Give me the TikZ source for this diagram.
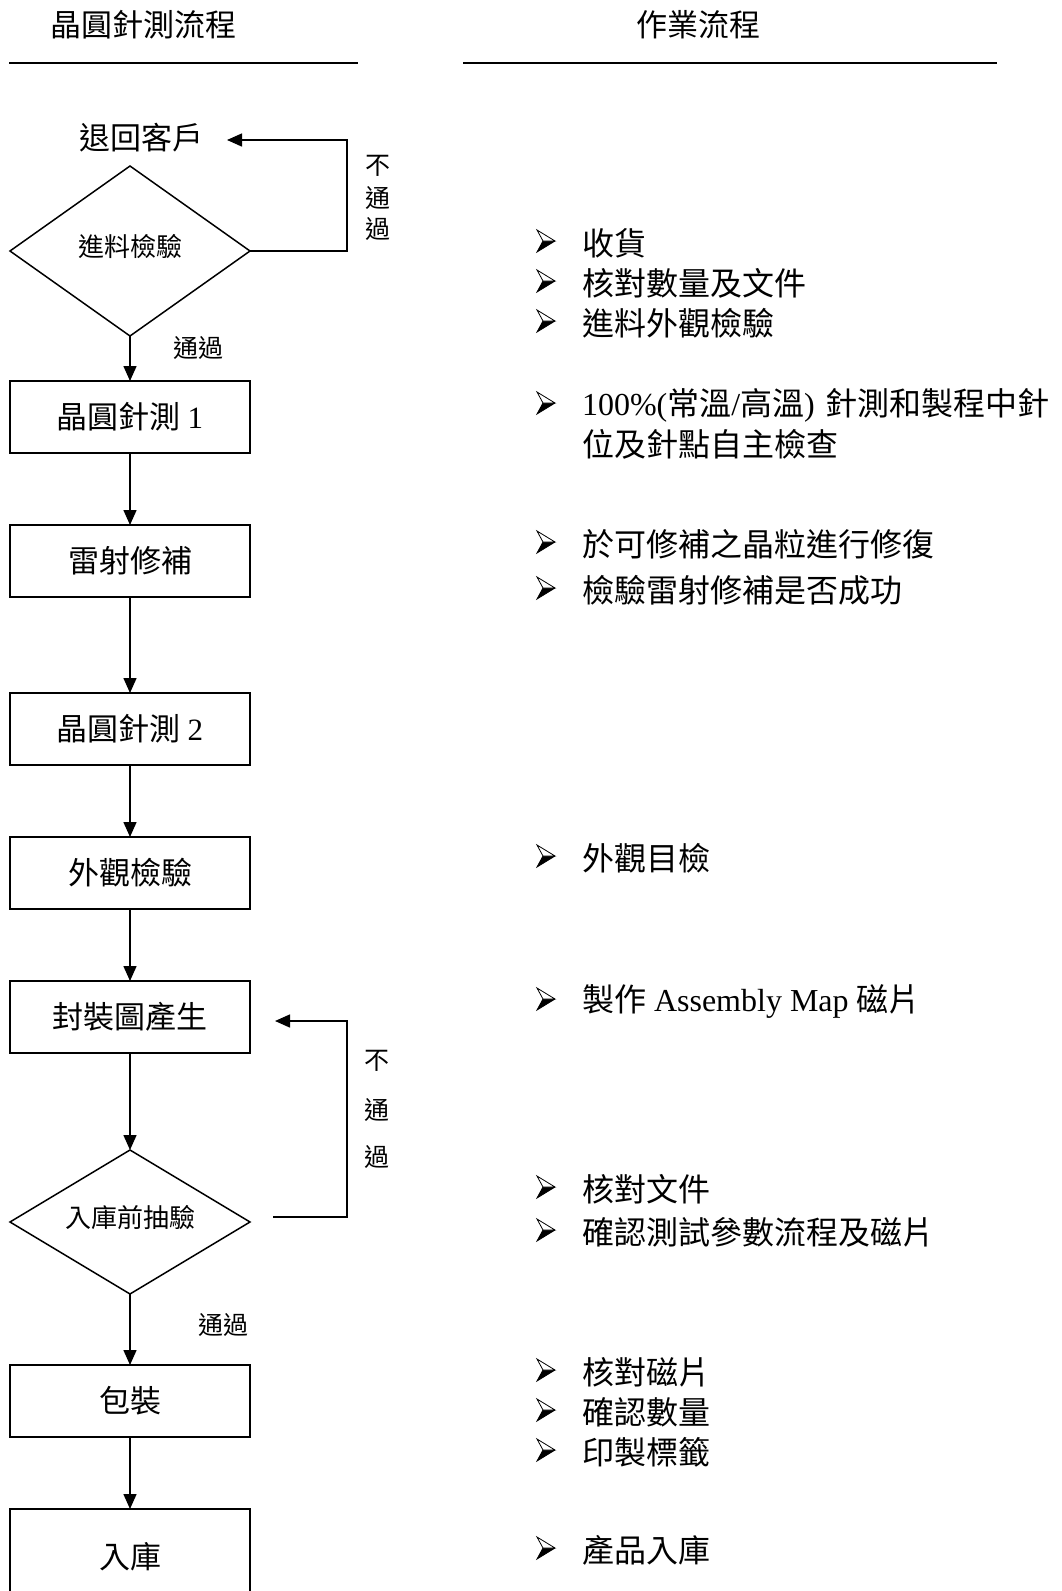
\documentclass[tikz,border=0pt]{standalone}
\usepackage{fontspec}
\setmainfont{Liberation Serif}
\newfontfamily\cjk{Noto Sans CJK TC}
\usetikzlibrary{arrows.meta,shapes.geometric}
\begin{document}
\begin{tikzpicture}[x=1pt,y=-1pt,
  every node/.style={inner sep=0pt,outer sep=0pt},
  ln/.style={line width=1.5pt},
  arr/.style={line width=1.5pt,-{Triangle[length=15pt,width=13pt]}},
  procbox/.style={draw,line width=1.5pt,minimum width=240pt,minimum height=72pt,font=\cjk\fontsize{31}{36}\selectfont},
  decbox/.style={draw,diamond,aspect=1.6,line width=1.5pt,minimum width=240pt,text height=25pt,text depth=14pt,font=\cjk\fontsize{26}{30}\selectfont},
  hdr/.style={font=\cjk\fontsize{31}{36}\selectfont},
  lbl/.style={font=\cjk\fontsize{25}{28}\selectfont},
  itemtxt/.style={anchor=west,font=\cjk\fontsize{32}{36}\selectfont},
  pics/arrowbul/.style={code={
    \fill[black] (-3,0) -- (9,0) -- (-9,11) -- cycle;
    \draw[line width=0.8pt,line join=miter,fill=white] (-9,-11) -- (9,0) -- (-3,0) -- cycle;
    \draw[line width=0.8pt,line join=miter] (-3,0) -- (-9,11) -- (9,0);
  }}
]
\useasboundingbox (0,0) rectangle (1062,1591);
% headers
\node[hdr] (hL) at (143,25) {晶圓針測流程};
\node[hdr] (hR) at (698,25) {作業流程};
\coordinate (lL1) at (9,63); \coordinate (lL2) at (358,63);
\coordinate (lR1) at (463,63); \coordinate (lR2) at (997,63);
\draw[ln] (lL1) -- (lL2);
\draw[ln] (lR1) -- (lR2);

% flow
\node[hdr] (ret) at (141,138) {退回客戶};
\node[decbox,minimum height=170pt] (d1) at (130,251) {進料檢驗};
\node[procbox] (b1) at (130,417) {晶圓針測 {\rmfamily 1}};
\node[procbox] (b2) at (130,561) {雷射修補};
\node[procbox] (b3) at (130,729) {晶圓針測 {\rmfamily 2}};
\node[procbox] (b4) at (130,873) {外觀檢驗};
\node[procbox] (b5) at (130,1017) {封裝圖產生};
\node[decbox,minimum height=144pt] (d2) at (130,1222) {入庫前抽驗};
\node[procbox] (b6) at (130,1401) {包裝};
\node[procbox,minimum height=96pt] (b7) at (130,1557) {};
\node[hdr] (t7) at (130,1557) {入庫};

\draw[arr] (d1.south) -- (b1.north);
\draw[arr] (b1.south) -- (b2.north);
\draw[arr] (b2.south) -- (b3.north);
\draw[arr] (b3.south) -- (b4.north);
\draw[arr] (b4.south) -- (b5.north);
\draw[arr] (b5.south) -- (d2.north);
\draw[arr] (d2.south) -- (b6.north);
\draw[arr] (b6.south) -- (b7.north);

% feedback loops
\coordinate (f1tip) at (227,140);
\draw[arr] (d1.east) -| (347,140) -- (f1tip);
\coordinate (f2start) at (273,1217);
\coordinate (f2tip) at (275,1021);
\draw[arr] (f2start) -- (347,1217) |- (f2tip);

\node[lbl] (n1a) at (378,166) {不};
\node[lbl] (n1b) at (378,198) {通};
\node[lbl] (n1c) at (378,229) {過};
\node[lbl] (p1) at (198,348) {通過};
\node[lbl] (n2a) at (377,1061) {不};
\node[lbl] (n2b) at (377,1110) {通};
\node[lbl] (n2c) at (377,1157) {過};
\node[lbl] (p2) at (223,1325) {通過};

% right column
\foreach \yy/\tx [count=\i] in {
  243/收貨,
  283/核對數量及文件,
  323/進料外觀檢驗,
  544/於可修補之晶粒進行修復,
  590/檢驗雷射修補是否成功,
  858/外觀目檢,
  1189/核對文件,
  1232/確認測試參數流程及磁片,
  1372/核對磁片,
  1412/確認數量,
  1452/印製標籤,
  1550/產品入庫}{
  \pic at (546,\yy-2) {arrowbul};
  \node[itemtxt] (it\i) at (582,\yy) {\tx};
}
\pic at (546,403) {arrowbul};
\node[itemtxt] (itA) at (582,405) {{\rmfamily 100\%(}常溫{\rmfamily /}高溫{\rmfamily )}\hspace{11pt}針測和製程中針};
\node[itemtxt] (itB) at (582,444) {位及針點自主檢查};
\pic at (546,999) {arrowbul};
\node[itemtxt] (itC) at (582,1001) {製作{\rmfamily\ Assembly Map }磁片};
\end{tikzpicture}
\end{document}
